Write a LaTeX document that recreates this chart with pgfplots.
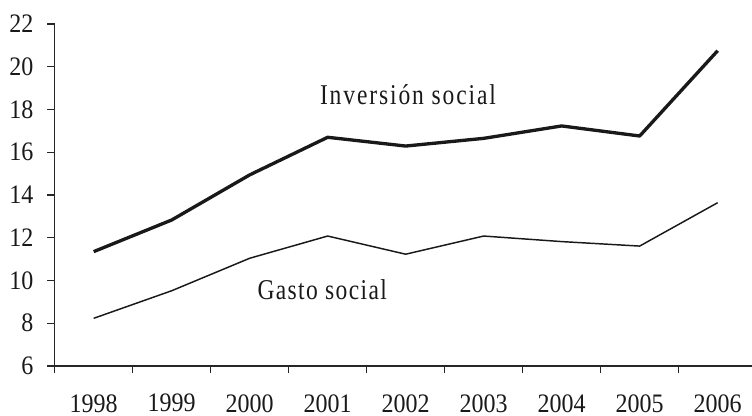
\documentclass[border=0pt]{standalone}
\usepackage{fontspec}
\setmainfont{Liberation Serif}
\newfontfamily\tickfont[FakeStretch=0.9]{Liberation Serif}
\newfontfamily\labfontA[FakeStretch=0.82,LetterSpace=6.6]{Liberation Serif}
\newfontfamily\labfontB[FakeStretch=0.82,LetterSpace=4.8]{Liberation Serif}
\usepackage{pgfplots}
\pgfplotsset{compat=1.18}
\begin{document}
\begin{tikzpicture}
\begin{axis}[
  scale only axis, width=526.5pt, height=256.5pt,
  xmin=-0.5, xmax=8.5, ymin=6, ymax=22,
  axis x line*=bottom, axis y line*=left,
  axis line style={black!85, line width=0.8pt},
  every tick/.style={black!85, line width=0.8pt},
  ytick={6,8,...,22},
  xtick={-0.5,0.5,1.5,2.5,3.5,4.5,5.5,6.5,7.5,8.5},
  x tick label as interval,
  xticklabels={1998,1999,2000,2001,2002,2003,2004,2005,2006},
  tick align=outside,
  major tick length=5.5pt,
  /pgf/number format/assume math mode=true,
  tick label style={font=\tickfont\fontsize{20}{23}\selectfont, text=black!90},
  xticklabel style={inner sep=0pt, yshift=-15.5pt},
  yticklabel style={xshift=-7pt},
  clip=false,
]
\addplot[black!90, line width=2.5pt, line join=round] coordinates {
(0,11.35) (1,12.83) (2,14.94) (3,16.70) (4,16.29) (5,16.65) (6,17.23) (7,16.76) (8,20.75)};
\addplot[black!90, line width=1.1pt, line join=round] coordinates {
(0,8.23) (1,9.52) (2,11.04) (3,12.08) (4,11.23) (5,12.08) (6,11.82) (7,11.61) (8,13.64)};
\node[font=\labfontA\fontsize{21.5}{24}\selectfont, text=black!90] at (axis cs:4.03,18.68) {Inversión social};
\node[font=\labfontB\fontsize{21.5}{24}\selectfont, text=black!90] at (axis cs:2.93,9.56) {Gasto social};
\end{axis}
\pgfresetboundingbox
\useasboundingbox (-41pt,-37.5pt) rectangle (523pt,274.5pt);
\end{tikzpicture}
\end{document}
